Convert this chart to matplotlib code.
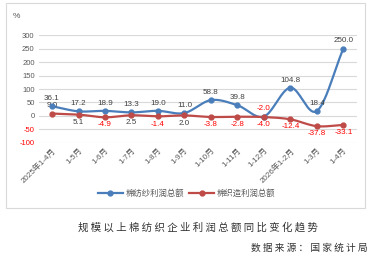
import matplotlib
matplotlib.use("Agg")
import matplotlib.pyplot as plt
from matplotlib.patches import Rectangle
import numpy as np

plt.rcParams['font.family'] = ['Liberation Sans', 'Noto Sans CJK SC', 'DejaVu Sans']

months = ['2025年1-4月', '1-5月', '1-6月', '1-7月', '1-8月', '1-9月', '1-10月',
          '1-11月', '1-12月', '2026年1-2月', '1-3月', '1-4月']
yarn = [36.1, 17.2, 18.9, 13.3, 19.0, 11.0, 58.8, 39.8, -2.0, 104.8, 18.4, 250.0]
weave = [9.0, 5.1, -4.9, 2.5, -1.4, 2.0, -3.8, -2.8, -4.0, -12.4, -37.8, -33.1]
yticks = [-100, -50, 0, 50, 100, 150, 200, 250, 300]

blue = '#4a7ebb'
red = '#be4b48'


def smooth(x, y, n=20):
    # catmull-rom, only to draw the curve between the real points
    x = np.asarray(x, float)
    y = np.asarray(y, float)
    px = np.concatenate([[2 * x[0] - x[1]], x, [2 * x[-1] - x[-2]]])
    py = np.concatenate([[2 * y[0] - y[1]], y, [2 * y[-1] - y[-2]]])
    ox, oy = [], []
    t = np.linspace(0, 1, n, endpoint=False)
    for i in range(1, len(px) - 2):
        for p, o in ((px, ox), (py, oy)):
            p0, p1, p2, p3 = p[i - 1], p[i], p[i + 1], p[i + 2]
            o.extend(0.5 * (2 * p1 + (-p0 + p2) * t + (2 * p0 - 5 * p1 + 4 * p2 - p3) * t ** 2
                            + (-p0 + 3 * p1 - 3 * p2 + p3) * t ** 3))
    ox.append(x[-1])
    oy.append(y[-1])
    return ox, oy


fig = plt.figure(figsize=(3.73, 2.58), dpi=100)
fig.patches.append(Rectangle((6 / 373, 1 - 208 / 258), 359 / 373, 205 / 258,
                             transform=fig.transFigure, fill=False,
                             edgecolor='#d9d9d9', linewidth=0.8))

ax = fig.add_axes([0.104, 0.446, 0.852, 0.418])
x = np.arange(len(months))

sx, sy = smooth(x, yarn)
ax.plot(sx, sy, color=blue, linewidth=1.6, zorder=3)
ax.plot(x, yarn, 'o', color=blue, markersize=3.5, zorder=4)
sx, sy = smooth(x, weave)
ax.plot(sx, sy, color=red, linewidth=1.6, zorder=3)
ax.plot(x, weave, 'o', color=red, markersize=3.5, zorder=4)

for i, v in enumerate(yarn):
    ax.annotate(f'{v:.1f}', (i, v), xytext=(0, 3), textcoords='offset points',
                ha='center', va='bottom', fontsize=5.8,
                color='red' if v < 0 else '#404040')
for i, v in enumerate(weave):
    dy = 3 if i == 0 else -3
    ax.annotate(f'{v:.1f}', (i, v), xytext=(0, dy), textcoords='offset points',
                ha='center', va='bottom' if dy > 0 else 'top', fontsize=5.8,
                color='red' if v < 0 else '#404040')

ax.set_xlim(-0.5, len(months) - 0.5)
ax.set_ylim(-100, 300)
ax.set_yticks(yticks)
ax.set_yticklabels([str(v) for v in yticks], fontsize=5.5)
for lab, v in zip(ax.get_yticklabels(), yticks):
    lab.set_color('red' if v < 0 else '#595959')
ax.set_xticks(x)
ax.set_xticklabels(months, rotation=45, ha='right', va='top', fontsize=5.8,
                   color='#595959', rotation_mode='anchor')
ax.tick_params(length=0, pad=3)
ax.grid(axis='y', color='#d9d9d9', linewidth=0.8)
ax.set_axisbelow(True)
for s in ax.spines.values():
    s.set_visible(False)

fig.text(16 / 373, 1 - 17 / 258, '%', fontsize=6, color='#595959', ha='center', va='center')

h1, = ax.plot([], [], '-o', color=blue, markersize=3.5, linewidth=1.6)
h2, = ax.plot([], [], '-o', color=red, markersize=3.5, linewidth=1.6)
fig.legend([h1, h2], ['棉纺纱利润总额', '棉织造利润总额'], loc='center',
           bbox_to_anchor=(0.5, 1 - 193 / 258), ncol=2, frameon=False,
           prop={'family': 'Noto Sans CJK SC', 'size': 6}, labelcolor='#595959',
           handlelength=3, columnspacing=0.6, handletextpad=0.3)

fig.text(0.53, 1 - 227 / 258, ' '.join('规模以上棉纺织企业利润总额同比变化趋势'),
         fontsize=7.5, family='Noto Sans CJK SC', color='#333333', ha='center', va='center')
fig.text(368 / 373, 1 - 248 / 258, ' '.join('数据来源：国家统计局'),
         fontsize=7, family='Noto Sans CJK SC', color='#333333', ha='right', va='center')

fig.savefig('out.png', dpi=100)
